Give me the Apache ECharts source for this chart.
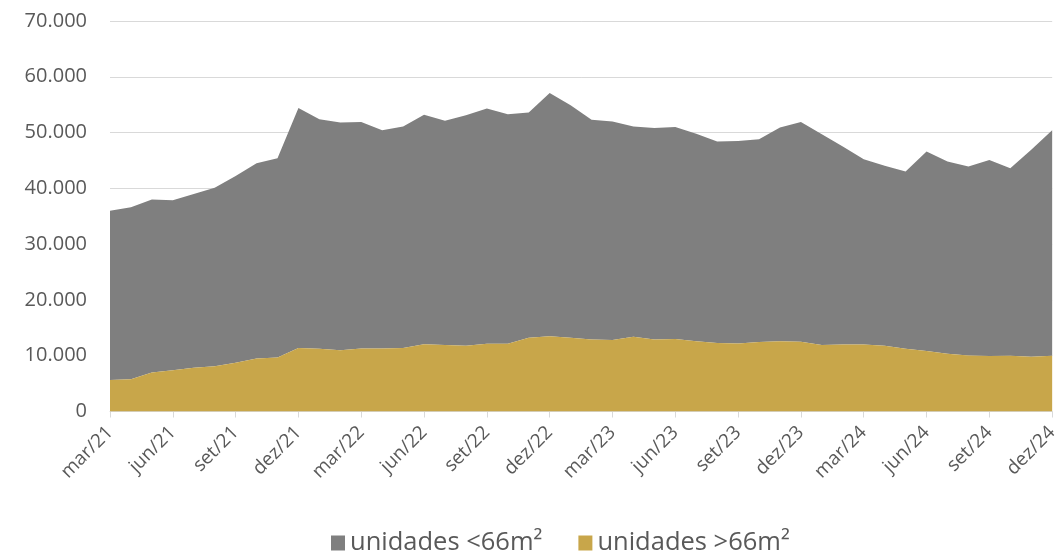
<!DOCTYPE html>
<html>
<head>
<meta charset="utf-8">
<script src="https://cdn.jsdelivr.net/npm/echarts@6/dist/echarts.min.js"></script>
<style>
  html, body { margin: 0; padding: 0; background: #ffffff; }
  #chart { width: 1061px; height: 551px; }
</style>
</head>
<body>
<div id="chart"></div>
<script>
// Monthly launches, mar/21 – dez/24
const months = [
  'mar/21','abr/21','mai/21','jun/21','jul/21','ago/21','set/21','out/21','nov/21','dez/21',
  'jan/22','fev/22','mar/22','abr/22','mai/22','jun/22','jul/22','ago/22','set/22','out/22','nov/22','dez/22',
  'jan/23','fev/23','mar/23','abr/23','mai/23','jun/23','jul/23','ago/23','set/23','out/23','nov/23','dez/23',
  'jan/24','fev/24','mar/24','abr/24','mai/24','jun/24','jul/24','ago/24','set/24','out/24','nov/24','dez/24'
];

// Total units per month (top of the stacked areas)
const totalUnits = [
  36000, 36600, 38000, 37850, 39000, 40100, 42200, 44500, 45400, 54400,
  52400, 51800, 51900, 50400, 51100, 53200, 52100, 53100, 54300, 53300, 53600, 57100,
  54900, 52300, 52000, 51100, 50800, 51000, 49800, 48400, 48500, 48800, 50900, 51900,
  49700, 47500, 45200, 44050, 43000, 46600, 44800, 43900, 45100, 43600, 46900, 50400
];

// Units larger than 66 m²
const unitsLarge = [
  5650, 5800, 7000, 7400, 7850, 8100, 8750, 9500, 9700, 11400,
  11250, 11000, 11300, 11300, 11400, 12050, 11900, 11800, 12150, 12150, 13200, 13500,
  13200, 12900, 12800, 13400, 12900, 13000, 12600, 12300, 12200, 12450, 12600, 12500,
  11900, 12000, 12000, 11800, 11250, 10850, 10350, 10050, 9950, 10000, 9800, 10000
];

// Units smaller than 66 m² = total minus the larger ones
const unitsSmall = totalUnits.map((t, i) => t - unitsLarge[i]);

const yTicks = [0, 10000, 20000, 30000, 40000, 50000, 60000, 70000];

const labelFont = 'Open Sans';
const chart = echarts.init(document.getElementById('chart'));

chart.setOption({
  animation: false,
  backgroundColor: '#ffffff',
  textStyle: { fontFamily: labelFont },
  grid: { left: 110, right: 5, top: 21, bottom: 139.5, containLabel: false },
  legend: {
    data: ['unidades <66m²', 'unidades >66m²'],
    top: 525,
    left: 326,
    itemWidth: 14,
    itemHeight: 15,
    itemGap: 36,
    icon: 'rect',
    textStyle: { fontSize: 25.5, color: '#595959', fontFamily: labelFont, padding: [0, 0, 0, 0] }
  },
  xAxis: {
    type: 'category',
    data: months,
    boundaryGap: false,
    axisLine: { lineStyle: { color: '#d9d9d9', width: 1 } },
    axisTick: { show: true, interval: 2, length: 6, lineStyle: { color: '#d9d9d9' } },
    axisLabel: {
      interval: 2,
      rotate: 45,
      fontSize: 19,
      color: '#595959',
      margin: 18,
      fontFamily: labelFont
    },
    splitLine: { show: false }
  },
  yAxis: {
    type: 'value',
    min: yTicks[0],
    max: yTicks[yTicks.length - 1],
    interval: 10000,
    axisLine: { show: false },
    axisTick: { show: false },
    axisLabel: {
      fontSize: 20,
      color: '#595959',
      margin: 23,
      fontFamily: labelFont,
      formatter: v => v === 0 ? '0' : v.toLocaleString('de-DE')
    },
    splitLine: { lineStyle: { color: '#d9d9d9', width: 1 } }
  },
  series: [
    {
      name: 'unidades >66m²',
      type: 'line',
      stack: 'total',
      data: unitsLarge,
      symbol: 'none',
      lineStyle: { width: 0 },
      itemStyle: { color: '#c8a64a' },
      areaStyle: { color: '#c8a64a', opacity: 1 },
      z: 3
    },
    {
      name: 'unidades <66m²',
      type: 'line',
      stack: 'total',
      data: unitsSmall,
      symbol: 'none',
      lineStyle: { width: 0 },
      itemStyle: { color: '#7f7f7f' },
      areaStyle: { color: '#7f7f7f', opacity: 1 },
      z: 2
    }
  ]
});
</script>
</body>
</html>
